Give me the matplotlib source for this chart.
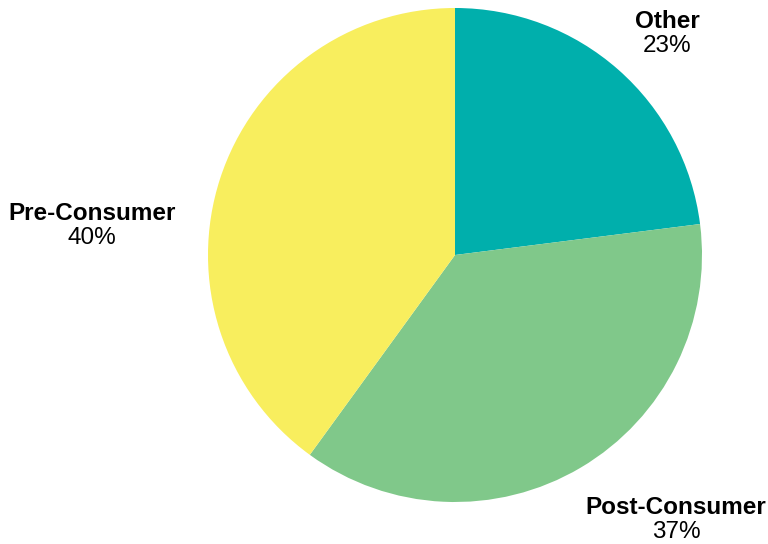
import matplotlib.pyplot as plt

labels = ['Other', 'Post-Consumer', 'Pre-Consumer']
shares = [23, 37, 40]
colors = ['#00afac', '#80c88a', '#f8ee5e']

# label anchor points in pixel space (x, y from top)
label_pos = [(667, 21), (676, 507), (92, 213)]

plt.rcParams['font.family'] = ['Liberation Sans', 'DejaVu Sans']

fig = plt.figure(figsize=(7.68, 5.44), dpi=100)
ax = fig.add_axes([0, 0, 1, 1])

ax.pie(shares, colors=colors, startangle=90, counterclock=False,
       center=(455, 544 - 255), radius=247, frame=True,
       wedgeprops=dict(linewidth=0))
ax.set_xlim(0, 768)
ax.set_ylim(0, 544)
ax.set_aspect('equal')
ax.axis('off')

for lab, val, (px, py) in zip(labels, shares, label_pos):
    ax.text(px, 544 - py, lab, ha='center', va='center',
            fontsize=17.5, fontweight='bold', color='black')
    ax.text(px, 544 - py - 25, str(val) + '%', ha='center', va='center',
            fontsize=17.5, color='black')

plt.savefig('out.png', dpi=100)
